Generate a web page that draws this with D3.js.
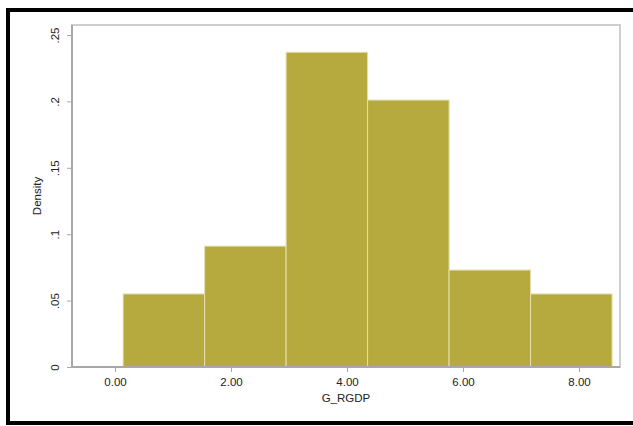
<!DOCTYPE html>
<html><head><meta charset="utf-8">
<script src="https://cdn.jsdelivr.net/npm/d3@7"></script>
<style>html,body{margin:0;padding:0;background:#fff;}svg{display:block;}</style>
</head><body>
<svg id="c" width="633" height="426"></svg>
<script>
const binEdges = [0.14, 1.545, 2.95, 4.355, 5.76, 7.165, 8.57];
const densities = [0.055, 0.091, 0.237, 0.201, 0.073, 0.055];
const xTicks = [0, 2, 4, 6, 8];
const yTicks = [0, 0.05, 0.1, 0.15, 0.2, 0.25];
const yTickLabels = ["0", ".05", ".1", ".15", ".2", ".25"];
const xTitle = "G_RGDP";
const yTitle = "Density";

const svg = d3.select("#c");
const W = 633, H = 426;
const L = 72, R = 620, T = 25, B = 367;
const FONT = "Liberation Sans, Arial, sans-serif";

const x = d3.scaleLinear().domain([0, 8]).range([115, 579]);
const y = d3.scaleLinear().domain([0, 0.25]).range([367, 35]);

svg.append("rect").attr("x",0).attr("y",0).attr("width",W).attr("height",H).attr("fill","#fff");
svg.append("path").attr("d", `M${W},10 L8,10 L8,423 L${W},423`)
  .attr("fill","none").attr("stroke","#000").attr("stroke-width",4);

svg.append("rect").attr("x",L).attr("y",T).attr("width",R-L).attr("height",B-T)
  .attr("fill","#fff").attr("stroke","#cfcfcf").attr("stroke-width",2);

const bins = densities.map((d,i)=>({x0:binEdges[i], x1:binEdges[i+1], d}));
svg.append("g").selectAll("rect").data(bins).join("rect")
  .attr("x", d=>x(d.x0)).attr("y", d=>y(d.d))
  .attr("width", d=>x(d.x1)-x(d.x0)).attr("height", d=>y(0)-y(d.d))
  .attr("fill","#b6aa3e").attr("stroke","#e6dfa8").attr("stroke-width",1);

const axisColor = "#a8a8a8";
const yAxis = d3.axisLeft(y).tickValues(yTicks).tickSize(5)
  .tickFormat((d,i)=>yTickLabels[i]);
const gy = svg.append("g").attr("transform",`translate(${L},0)`).call(yAxis);
gy.select(".domain").attr("stroke",axisColor).attr("stroke-width",2).attr("d",`M0,${T}V${B}`);
gy.selectAll(".tick line").attr("stroke",axisColor);
gy.selectAll(".tick text")
  .attr("transform","rotate(-90,-17,0)").attr("x",-17).attr("y",0).attr("dy","0.35em").attr("dx",0)
  .attr("text-anchor","middle")
  .attr("font-family",FONT).attr("font-size",11.5).attr("fill","#222");

const xAxis = d3.axisBottom(x).tickValues(xTicks).tickSize(5).tickPadding(6)
  .tickFormat(d3.format(".2f"));
const gx = svg.append("g").attr("transform",`translate(0,${B})`).call(xAxis);
gx.select(".domain").attr("stroke",axisColor).attr("stroke-width",2).attr("d",`M${L},0H${R}`);
gx.selectAll(".tick line").attr("stroke",axisColor);
gx.selectAll(".tick text").attr("font-family",FONT)
  .attr("font-size",11.5).attr("fill","#222");

svg.append("text").attr("x",(L+R)/2).attr("y",402).attr("text-anchor","middle")
  .attr("font-family",FONT).attr("font-size",11.5).attr("fill","#222")
  .text(xTitle);
svg.append("text").attr("transform",`translate(41,${(T+B)/2}) rotate(-90)`)
  .attr("text-anchor","middle")
  .attr("font-family",FONT).attr("font-size",11.5).attr("fill","#222")
  .text(yTitle);
</script>
</body></html>
